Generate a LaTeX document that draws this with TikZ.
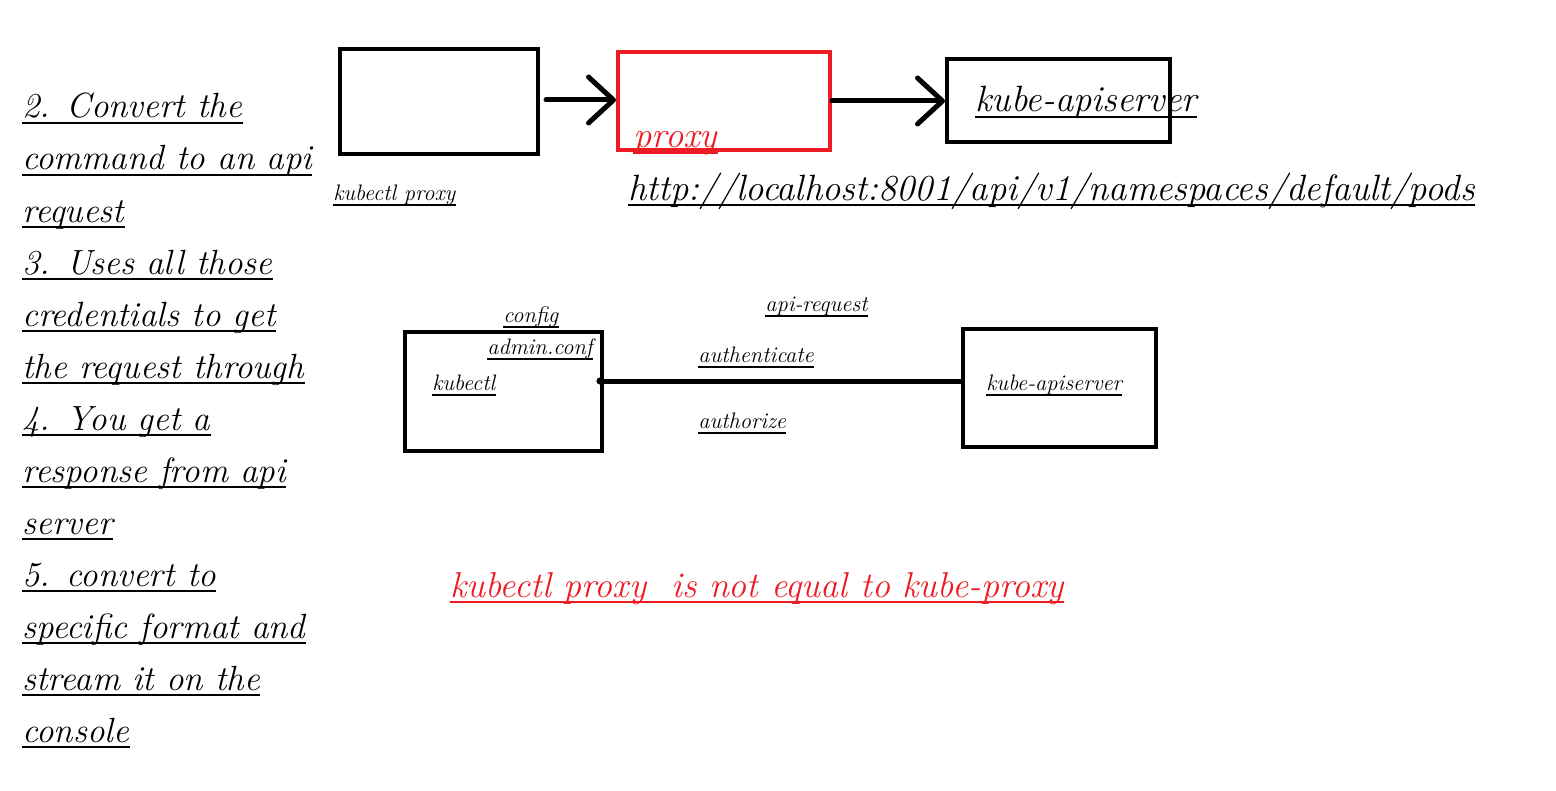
\documentclass[tikz,border=0pt]{standalone}
\usetikzlibrary{arrows.meta}
\definecolor{myred}{HTML}{ED1C24}
\newcommand\ulnode[5]{% name, position, style, underline style, text
  \node[#3] (#1) at #2 {#5};
  \draw[#4] ([yshift=-2.6pt]#1.base west) -- ([yshift=-2.6pt]#1.base east);}
\begin{document}
\begin{tikzpicture}[x=0.5pt,y=-0.5pt,
  txt/.style={inner sep=0pt,anchor=base west,font=\itshape},
  big/.style={txt,font=\fontsize{17.5}{19}\selectfont\itshape},
  large/.style={txt,font=\fontsize{18.3}{20}\selectfont\itshape},
  small/.style={txt,font=\fontsize{11.2}{12}\selectfont\itshape},
  ul/.style={line width=1pt,black},
  ulred/.style={line width=1pt,myred},
  box/.style={draw,line width=2pt,inner sep=0pt},
  conn/.style={line width=2.5pt,line cap=round},
  chev/.style={-{Straight Barb[length=12.5pt,width=23pt,line width=2.5pt,line cap=round,line join=round]}}
]
\useasboundingbox (0,0) rectangle (1556,791);

% left list
\ulnode{l1}{(22,118)}{big}{ul}{2. Convert the}
\ulnode{l2}{(22,170)}{big}{ul}{command to an api}
\ulnode{l3}{(22,222)}{big}{ul}{request}
\ulnode{l4}{(22,274)}{big}{ul}{3. Uses all those}
\ulnode{l5}{(22,326)}{big}{ul}{credentials to get}
\ulnode{l6}{(22,378)}{big}{ul}{the request through}
\ulnode{l7}{(22,430)}{big}{ul}{4. You get a}
\ulnode{l8}{(22,482)}{big}{ul}{response from api}
\ulnode{l9}{(22,534)}{big}{ul}{server}
\ulnode{l10}{(22,586)}{big}{ul}{5. convert to}
\ulnode{l11}{(22,638)}{big}{ul}{specific format and}
\ulnode{l12}{(22,690)}{big}{ul}{stream it on the}
\ulnode{l13}{(22,742)}{big}{ul}{console}

% top row
\node[box,minimum width=99pt,minimum height=52.5pt] (b1) at (439,101.5) {};
\node[box,draw=myred,minimum width=106pt,minimum height=49pt] (b2) at (724,101) {};
\node[box,minimum width=111.5pt,minimum height=41.5pt] (b3) at (1058.5,100.5) {};
\draw[conn,chev,shorten <=3pt] (b1.east |- 0,100) -- (b2.west |- 0,100);
\draw[conn,chev] (b2.east |- 0,101) -- (b3.west |- 0,101);

\ulnode{kube1}{(975,112)}{large}{ul}{kube-apiserver}
\ulnode{proxy}{(633,148)}{large,text=myred}{ulred}{proxy}
\ulnode{kp}{(333,200)}{small}{ul}{kubectl proxy}
\ulnode{url}{(628,200)}{large}{ul}{http://localhost:8001/api/v1/namespaces/default/pods}

% middle row
\node[box,minimum width=98.5pt,minimum height=59.5pt] (b4) at (503.5,391.5) {};
\node[box,minimum width=96.5pt,minimum height=59pt] (b5) at (1059.5,388) {};
\coordinate (ls) at (600,381);
\draw[conn,line cap=butt] (ls) -- (ls -| b5.west);
\fill (ls) circle (1.8pt);

\ulnode{config}{(503,322)}{small}{ul}{config}
\ulnode{admin}{(487,354)}{small}{ul}{admin.conf}
\ulnode{kctl}{(432,390)}{small}{ul}{kubectl}
\ulnode{apireq}{(765,311)}{small}{ul}{api-request}
\ulnode{authn}{(698,362)}{small}{ul}{authenticate}
\ulnode{authz}{(698,428)}{small}{ul}{authorize}
\ulnode{kube2}{(986,390)}{small}{ul}{kube-apiserver}

% bottom note
\ulnode{note}{(450,597)}{big,font=\fontsize{18}{20}\selectfont\itshape,text=myred}{ulred}{kubectl proxy\ \ is not equal to kube-proxy}
\end{tikzpicture}
\end{document}
